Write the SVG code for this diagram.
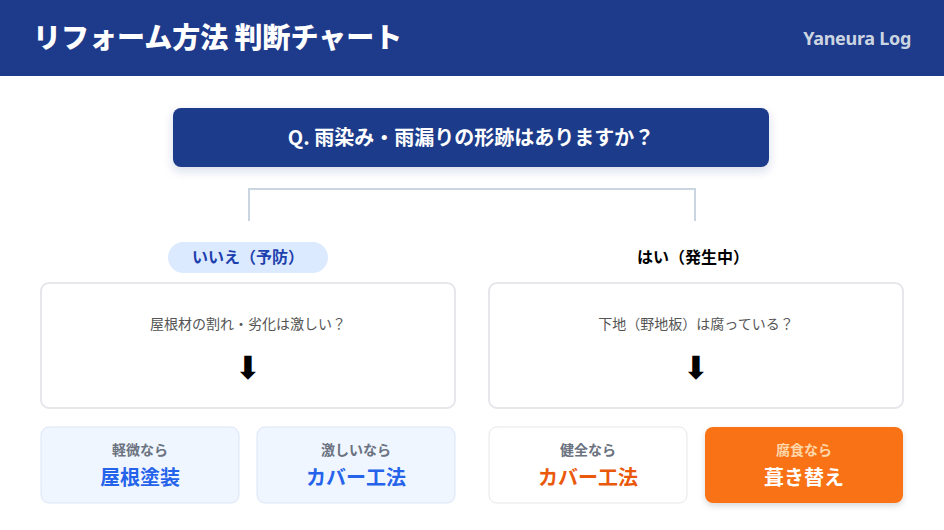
<svg xmlns="http://www.w3.org/2000/svg" width="944" height="530" viewBox="0 0 944 530">
<defs>
<filter id="sh" x="-10%" y="-30%" width="120%" height="170%">
<feDropShadow dx="0" dy="4" stdDeviation="5" flood-color="#1e3a8a" flood-opacity="0.18"/>
</filter>
<filter id="sh2" x="-10%" y="-20%" width="120%" height="150%">
<feDropShadow dx="0" dy="3" stdDeviation="3" flood-color="#000" flood-opacity="0.15"/>
</filter>
</defs>
<style>
text{font-family:"Noto Sans CJK JP","Noto Sans",sans-serif;text-anchor:middle}
.b{font-weight:700}
.card{fill:#fff;stroke:#e5e7eb;stroke-width:2}
.q{font-size:14px;fill:#555}
.arr{font-family:"DejaVu Sans",sans-serif;font-size:32px;fill:#000}
.sm{font-size:14px;font-weight:700;fill:#6b7280}
.big{font-size:20px;font-weight:700}
.res{fill:#eff6ff;stroke:#dbe5f3;stroke-width:1}
.conn{fill:none;stroke:#cbd5e1;stroke-width:2}
</style>
<rect width="944" height="530" fill="#fff"/>
<g id="header">
<rect x="0" y="0" width="944" height="76" fill="#1e3a8a"/>
<text x="33" y="48" style="text-anchor:start;font-size:28px;font-weight:900" fill="#fff">リフォーム方法 判断チャート</text>
<text x="911" y="45" style="text-anchor:end;font-size:18px;font-weight:700;font-family:'Noto Sans',sans-serif;letter-spacing:-0.3px" fill="#cbd5e1">Yaneura Log</text>
</g>
<g id="question">
<rect x="173" y="108" width="596" height="59" rx="8" fill="#1e3a8a" filter="url(#sh)"/>
<text x="471" y="145" class="b" style="font-size:20px" fill="#fff">Q. 雨染み・雨漏りの形跡はありますか？</text>
</g>
<g id="connectors">
<path class="conn" d="M249,221 V189 H695 V221"/>
</g>
<g id="label-no">
<rect x="168" y="242" width="160" height="31" rx="15.5" fill="#dbeafe"/>
<text x="248" y="263" class="b" style="font-size:16px" fill="#1e40af">いいえ（予防）</text>
</g>
<g id="label-yes">
<text x="693" y="263" class="b" style="font-size:16px" fill="#000">はい（発生中）</text>
</g>
<g id="card-left">
<rect x="41" y="283" width="414" height="125" rx="8" class="card"/>
<text x="248" y="329" class="q">屋根材の割れ・劣化は激しい？</text>
<text x="248" y="379" class="arr">⬇</text>
</g>
<g id="card-right">
<rect x="489" y="283" width="414" height="125" rx="8" class="card"/>
<text x="696" y="329" class="q">下地（野地板）は腐っている？</text>
<text x="696" y="379" class="arr">⬇</text>
</g>
<g id="res-paint">
<rect x="41" y="427" width="198" height="76" rx="8" class="res"/>
<text x="140" y="455" class="sm">軽微なら</text>
<text x="140" y="485" class="big" fill="#2563eb">屋根塗装</text>
</g>
<g id="res-cover1">
<rect x="257" y="427" width="198" height="76" rx="8" class="res"/>
<text x="356" y="455" class="sm">激しいなら</text>
<text x="356" y="485" class="big" fill="#2563eb">カバー工法</text>
</g>
<g id="res-cover2">
<rect x="489" y="427" width="198" height="76" rx="8" fill="#fff" stroke="#e5e7eb" stroke-width="1"/>
<text x="588" y="455" class="sm">健全なら</text>
<text x="588" y="485" class="big" fill="#ea580c">カバー工法</text>
</g>
<g id="res-reroof">
<rect x="705" y="427" width="198" height="76" rx="8" fill="#f97316" filter="url(#sh2)"/>
<text x="804" y="455" class="sm" style="fill:#fed7aa">腐食なら</text>
<text x="804" y="485" class="big" fill="#fff">葺き替え</text>
</g>
</svg>
